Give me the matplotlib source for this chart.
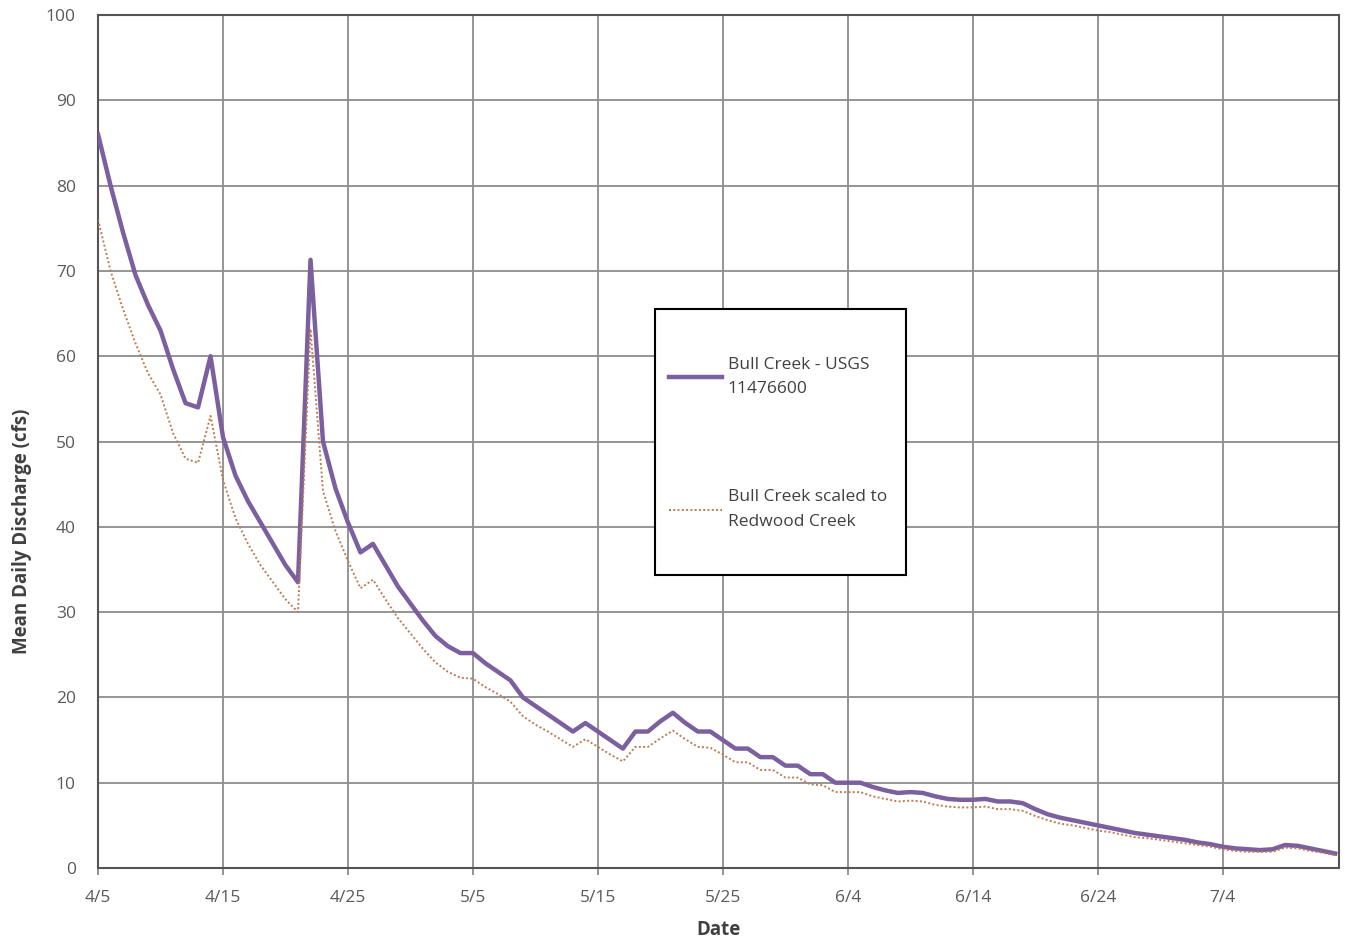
import matplotlib.pyplot as plt
import matplotlib.dates as mdates
from matplotlib.patches import Rectangle
import datetime as dt

# mean daily discharge, one value per day from 4/5
start = dt.date(2012, 4, 5)

bull_creek = [
    86, 80, 74.5, 69.5, 66, 63, 58.5, 54.5, 54, 60,
    50.5, 46, 43, 40.5, 38, 35.5, 33.5, 71.3, 50, 44.5,
    40.5, 37, 38, 35.5, 33, 31, 29, 27.2, 26, 25.2,
    25.2, 24, 23, 22, 20, 19, 18, 17, 16, 17,
    16, 15, 14, 16, 16, 17.2, 18.2, 17, 16, 16,
    15, 14, 14, 13, 13, 12, 12, 11, 11, 10,
    10, 10, 9.5, 9.1, 8.8, 8.9, 8.8, 8.4, 8.1, 8.0,
    8.0, 8.1, 7.8, 7.8, 7.6, 6.9, 6.3, 5.9, 5.6, 5.3,
    5.0, 4.7, 4.4, 4.1, 3.9, 3.7, 3.5, 3.3, 3.0, 2.8,
    2.5, 2.3, 2.2, 2.1, 2.2, 2.7, 2.6, 2.3, 2.0, 1.7,
]

scaled_redwood = [
    76, 70, 65.5, 61.5, 58, 55.5, 51, 48, 47.5, 53,
    45.5, 41, 38, 35.5, 33.5, 31.5, 30, 63.2, 44.2, 39.5,
    36, 32.8, 33.8, 31.5, 29.3, 27.5, 25.7, 24.1, 23, 22.3,
    22.2, 21.2, 20.4, 19.5, 17.8, 16.8, 16, 15.1, 14.2, 15.1,
    14.2, 13.3, 12.5, 14.2, 14.2, 15.2, 16.1, 15.1, 14.2, 14.1,
    13.3, 12.4, 12.4, 11.5, 11.5, 10.6, 10.6, 9.8, 9.7, 8.9,
    8.9, 8.9, 8.4, 8.1, 7.8, 7.9, 7.8, 7.4, 7.2, 7.1,
    7.1, 7.2, 6.9, 6.9, 6.7, 6.1, 5.6, 5.2, 5.0, 4.7,
    4.4, 4.2, 3.9, 3.6, 3.5, 3.3, 3.1, 2.9, 2.7, 2.5,
    2.2, 2.0, 1.9, 1.9, 1.9, 2.4, 2.3, 2.0, 1.8, 1.5,
]

dates = [start + dt.timedelta(days=i) for i in range(len(bull_creek))]

plt.rcParams['font.family'] = ['Open Sans', 'DejaVu Sans']

fig = plt.figure(figsize=(13.47, 9.39), dpi=100)
ax = fig.add_axes([0.0728, 0.0756, 0.9212, 0.9084])

ax.plot(dates, bull_creek, color='#7B5F9E', lw=3.2,
        label='Bull Creek - USGS\n11476600', zorder=3)
ax.plot(dates, scaled_redwood, color='#C07A50', lw=1.4, ls=(0, (1, 1.2)),
        label='Bull Creek scaled to\nRedwood Creek', zorder=3)

ax.set_ylim(0, 100)
ax.set_yticks(range(0, 101, 10))
ax.set_xlim(mdates.date2num(start), mdates.date2num(start) + 99.3)
ticks = [start + dt.timedelta(days=10 * i) for i in range(10)]
ax.set_xticks(ticks)
ax.set_xticklabels([f"{d.month}/{d.day}" for d in ticks])

ax.grid(True, color='#8c8c8c', lw=1.3)
ax.set_axisbelow(True)
for s in ax.spines.values():
    s.set_color('#555555')
    s.set_linewidth(1.5)
ax.tick_params(axis='x', length=5, color='#8c8c8c', width=1.3,
               labelsize=12.5, labelcolor='#595959', pad=11)
ax.tick_params(axis='y', length=0, labelsize=12.5, labelcolor='#595959', pad=16)

ax.set_ylabel('Mean Daily Discharge (cfs)', fontsize=13.5, fontweight='bold',
              color='#404040')
ax.yaxis.set_label_coords(-0.053, 0.395)
ax.set_xlabel('Date', fontsize=13.5, fontweight='bold', color='#404040', labelpad=10)

# legend box: Excel style, tall frame with entries spread out
ax.add_patch(Rectangle((0.449, 0.343), 0.202, 0.312, transform=ax.transAxes,
                       facecolor='white', edgecolor='black', lw=1.5, zorder=4))
leg = ax.legend(loc='upper left', bbox_to_anchor=(0.4605, 0.599), frameon=False,
                fontsize=12.5, labelspacing=5.3, handlelength=3.0, borderpad=0,
                borderaxespad=0, handletextpad=0.35)
leg.set_zorder(5)
for t in leg.get_texts():
    t.set_color('#404040')
    t.set_linespacing(1.7)

fig.savefig('out.png', dpi=100)
